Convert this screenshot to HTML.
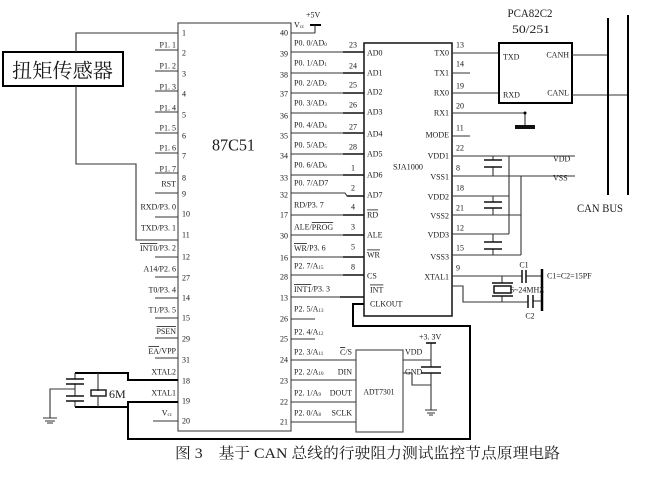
<!DOCTYPE html>
<html><head><meta charset="utf-8"><style>
html,body{margin:0;padding:0;background:#fff;width:650px;height:477px;overflow:hidden}
svg{display:block}
text{font-family:"Liberation Serif","Noto Serif CJK SC",serif;fill:#1a1a1a;font-size:8px;dominant-baseline:central}
.n{font-size:8px}
.e{text-anchor:end}
.m{text-anchor:middle}
.ov{text-decoration:overline}
.t{stroke:#333;stroke-width:1.1;fill:none}
.k{stroke:#000;stroke-width:2;fill:none}
.k15{stroke:#111;stroke-width:1.5;fill:none}
</style></head><body>
<svg width="650" height="477" viewBox="0 0 650 477" xmlns="http://www.w3.org/2000/svg">
<rect x="0" y="0" width="650" height="477" fill="#fff"/>

<!-- Sensor box -->
<rect x="3" y="52" width="120" height="34" fill="none" stroke="#000" stroke-width="2"/>
<text x="12" y="69" style="font-size:20px;font-family:'Noto Serif CJK SC','Noto Sans CJK SC',serif" textLength="101" lengthAdjust="spacingAndGlyphs">扭矩传感器</text>
<polyline class="t" points="76,52 76,33 178,33"/>
<polyline class="t" points="76,86 76,164 136,164 136,240 178,240"/>

<!-- 87C51 box -->
<rect x="178" y="23" width="113" height="408" fill="none" stroke="#444" stroke-width="1.1"/>
<text x="212" y="145" style="font-size:17px" textLength="43" lengthAdjust="spacingAndGlyphs">87C51</text>

<!-- left pin underlines -->
<g class="t">
<line x1="155" y1="50" x2="178" y2="50"/><line x1="155" y1="71" x2="178" y2="71"/>
<line x1="155" y1="91" x2="178" y2="91"/><line x1="155" y1="112" x2="178" y2="112"/>
<line x1="155" y1="133" x2="178" y2="133"/><line x1="155" y1="153" x2="178" y2="153"/>
<line x1="155" y1="173" x2="178" y2="173"/><line x1="155" y1="193" x2="178" y2="193"/>
<line x1="155" y1="217" x2="178" y2="217"/><line x1="155" y1="257" x2="178" y2="257"/>
<line x1="155" y1="277" x2="178" y2="277"/><line x1="155" y1="298" x2="178" y2="298"/>
<line x1="155" y1="318" x2="178" y2="318"/><line x1="155" y1="338" x2="178" y2="338"/>
<line x1="155" y1="358" x2="178" y2="358"/><line x1="153" y1="421" x2="178" y2="421"/>
</g>
<!-- left labels -->
<text class="e" x="176" y="45">P1. 1</text>
<text class="e" x="176" y="66">P1. 2</text>
<text class="e" x="176" y="87">P1. 3</text>
<text class="e" x="176" y="108">P1. 4</text>
<text class="e" x="176" y="128">P1. 5</text>
<text class="e" x="176" y="148">P1. 6</text>
<text class="e" x="176" y="169">P1. 7</text>
<text class="e" x="176" y="184">RST</text>
<text class="e" x="176" y="207">RXD/P3. 0</text>
<text class="e" x="176" y="228">TXD/P3. 1</text>
<text class="e" x="176" y="248"><tspan class="ov">INT0</tspan>/P3. 2</text>
<text class="e" x="176" y="269">A14/P2. 6</text>
<text class="e" x="176" y="290">T0/P3. 4</text>
<text class="e" x="176" y="310">T1/P3. 5</text>
<text class="e" x="176" y="331"><tspan class="ov">PSEN</tspan></text>
<text class="e" x="176" y="351"><tspan class="ov">EA</tspan>/VPP</text>
<text class="e" x="176" y="372">XTAL2</text>
<text class="e" x="176" y="393">XTAL1</text>
<text class="e" x="172" y="413">V<tspan style="font-size:5px" dy="2">cc</tspan></text>
<!-- left pin numbers -->
<g>
<text x="182" y="33">1</text><text x="182" y="53">2</text><text x="182" y="74">3</text>
<text x="182" y="94">4</text><text x="182" y="115">5</text><text x="182" y="136">6</text>
<text x="182" y="156">7</text><text x="182" y="178">8</text><text x="182" y="194">9</text>
<text x="182" y="214">10</text><text x="182" y="235">11</text><text x="182" y="257">12</text>
<text x="182" y="278">27</text><text x="182" y="298">14</text><text x="182" y="318">15</text>
<text x="182" y="339">29</text><text x="182" y="360">31</text><text x="182" y="381">18</text>
<text x="182" y="401">19</text><text x="182" y="421">20</text>
</g>
<!-- right pin numbers 87C51 -->
<g>
<text class="e" x="288" y="33">40</text><text class="e" x="288" y="54">39</text>
<text class="e" x="288" y="75">38</text><text class="e" x="288" y="94">37</text>
<text class="e" x="288" y="116">36</text><text class="e" x="288" y="136">35</text>
<text class="e" x="288" y="156">34</text><text class="e" x="288" y="178">33</text>
<text class="e" x="288" y="195">32</text><text class="e" x="288" y="215">17</text>
<text class="e" x="288" y="236">30</text><text class="e" x="288" y="258">16</text>
<text class="e" x="288" y="277">28</text><text class="e" x="288" y="298">13</text>
<text class="e" x="288" y="319">26</text><text class="e" x="288" y="339">25</text>
<text class="e" x="288" y="360">24</text><text class="e" x="288" y="381">23</text>
<text class="e" x="288" y="402">22</text><text class="e" x="288" y="422">21</text>
</g>
<!-- Vcc +5V -->
<text x="306" y="15">+5V</text>
<text x="294" y="25">V<tspan style="font-size:5px" dy="2">cc</tspan></text>
<line x1="310" y1="25" x2="321" y2="25" stroke="#000" stroke-width="2"/>
<line class="t" x1="315" y1="25" x2="315" y2="33"/>
<line class="t" x1="291" y1="33" x2="315" y2="33"/>

<!-- right labels 87C51 -->
<text x="294" y="43">P0. 0/AD<tspan style="font-size:5px" dy="2">0</tspan></text>
<text x="294" y="63">P0. 1/AD<tspan style="font-size:5px" dy="2">1</tspan></text>
<text x="294" y="83">P0. 2/AD<tspan style="font-size:5px" dy="2">2</tspan></text>
<text x="294" y="103">P0. 3/AD<tspan style="font-size:5px" dy="2">3</tspan></text>
<text x="294" y="125">P0. 4/AD<tspan style="font-size:5px" dy="2">4</tspan></text>
<text x="294" y="145">P0. 5/AD<tspan style="font-size:5px" dy="2">5</tspan></text>
<text x="294" y="165">P0. 6/AD<tspan style="font-size:5px" dy="2">6</tspan></text>
<text x="294" y="183">P0. 7/AD7</text>
<text x="294" y="205">RD/P3. 7</text>
<text x="294" y="227">ALE/<tspan class="ov">PROG</tspan></text>
<text x="294" y="248"><tspan class="ov">WR</tspan>/P3. 6</text>
<text x="294" y="266">P2. 7/A<tspan style="font-size:5px" dy="2">15</tspan></text>
<text x="294" y="289"><tspan class="ov">INT1</tspan>/P3. 3</text>
<text x="294" y="309">P2. 5/A<tspan style="font-size:5px" dy="2">13</tspan></text>
<text x="294" y="332">P2. 4/A<tspan style="font-size:5px" dy="2">12</tspan></text>
<text x="294" y="352">P2. 3/A<tspan style="font-size:5px" dy="2">11</tspan></text>
<text x="294" y="372">P2. 2/A<tspan style="font-size:5px" dy="2">10</tspan></text>
<text x="294" y="393">P2. 1/A<tspan style="font-size:5px" dy="2">9</tspan></text>
<text x="294" y="413">P2. 0/A<tspan style="font-size:5px" dy="2">8</tspan></text>

<!-- bus lines 87C51 -> SJA1000 -->
<g class="t">
<line x1="291" y1="52" x2="364" y2="52"/><line x1="291" y1="73" x2="364" y2="73"/>
<line x1="291" y1="93" x2="364" y2="93"/><line x1="291" y1="113" x2="364" y2="113"/>
<line x1="291" y1="133" x2="364" y2="133"/><line x1="291" y1="154" x2="364" y2="154"/>
<line x1="291" y1="175" x2="364" y2="175"/><polyline points="291,193 345,193 347,196 364,196"/>
<line x1="291" y1="215" x2="364" y2="215"/><line x1="291" y1="235" x2="364" y2="235"/>
<line x1="291" y1="257" x2="364" y2="257"/><line x1="291" y1="275" x2="364" y2="275"/>
<line x1="291" y1="297" x2="364" y2="297"/>
<line x1="291" y1="319" x2="315" y2="319"/><line x1="291" y1="339" x2="315" y2="339"/>
<line x1="291" y1="360" x2="356" y2="360"/><line x1="291" y1="380" x2="356" y2="380"/>
<line x1="291" y1="402" x2="356" y2="402"/><line x1="291" y1="422" x2="356" y2="422"/>
</g>
<g class="k15">
<line x1="343" y1="52" x2="364" y2="52"/><line x1="343" y1="73" x2="364" y2="73"/>
<line x1="343" y1="93" x2="364" y2="93"/><line x1="343" y1="113" x2="364" y2="113"/>
<line x1="343" y1="133" x2="364" y2="133"/><line x1="343" y1="154" x2="364" y2="154"/>
<line x1="343" y1="175" x2="364" y2="175"/><line x1="347" y1="196" x2="364" y2="196"/>
<line x1="343" y1="215" x2="364" y2="215"/><line x1="343" y1="235" x2="364" y2="235"/>
<line x1="343" y1="257" x2="364" y2="257"/><line x1="343" y1="275" x2="364" y2="275"/>
<line x1="340" y1="297" x2="364" y2="297"/>
</g>
<!-- SJA left pin numbers -->
<g>
<text class="m" x="353" y="45">23</text><text class="m" x="353" y="66">24</text>
<text class="m" x="353" y="85">25</text><text class="m" x="353" y="105">26</text>
<text class="m" x="353" y="127">27</text><text class="m" x="353" y="147">28</text>
<text class="m" x="353" y="168">1</text><text class="m" x="353" y="188">2</text>
<text class="m" x="353" y="207">4</text><text class="m" x="353" y="227">3</text>
<text class="m" x="353" y="247">5</text><text class="m" x="353" y="267">8</text>
</g>

<!-- SJA1000 box -->
<rect x="364" y="43" width="88" height="273" fill="none" stroke="#111" stroke-width="1.5"/>
<text x="393" y="167" textLength="30" lengthAdjust="spacingAndGlyphs">SJA1000</text>
<g>
<text x="367" y="53">AD0</text><text x="367" y="73">AD1</text><text x="367" y="92">AD2</text>
<text x="367" y="112">AD3</text><text x="367" y="134">AD4</text><text x="367" y="154">AD5</text>
<text x="367" y="175">AD6</text><text x="367" y="195">AD7</text>
<text x="367" y="215" class="ov">RD</text><text x="367" y="235">ALE</text>
<text x="367" y="255" class="ov">WR</text><text x="367" y="276">CS</text>
<text x="370" y="290" class="ov">INT</text><text x="370" y="304">CLKOUT</text>
</g>
<g>
<text class="e" x="449" y="53">TX0</text><text class="e" x="449" y="73">TX1</text>
<text class="e" x="449" y="93">RX0</text><text class="e" x="449" y="113">RX1</text>
<text class="e" x="449" y="135">MODE</text><text class="e" x="449" y="156">VDD1</text>
<text class="e" x="449" y="177">VSS1</text><text class="e" x="449" y="197">VDD2</text>
<text class="e" x="449" y="216">VSS2</text><text class="e" x="449" y="235">VDD3</text>
<text class="e" x="449" y="257">VSS3</text><text class="e" x="449" y="277">XTAL1</text>
</g>
<g>
<text x="456" y="45">13</text><text x="456" y="64">14</text><text x="456" y="86">19</text>
<text x="456" y="106">20</text><text x="456" y="128">11</text><text x="456" y="148">22</text>
<text x="456" y="168">8</text><text x="456" y="188">18</text><text x="456" y="208">21</text>
<text x="456" y="228">12</text><text x="456" y="248">15</text><text x="456" y="268">9</text>
</g>
<!-- SJA right wires -->
<g class="t">
<line x1="452" y1="53" x2="499" y2="53"/>
<line x1="452" y1="73" x2="470" y2="73"/>
<line x1="452" y1="93" x2="499" y2="93"/>
<line x1="452" y1="113" x2="525" y2="113"/>
<line x1="525" y1="113" x2="525" y2="126"/>
<line x1="452" y1="136" x2="470" y2="136"/>
<line x1="452" y1="156" x2="575" y2="156"/>
<line x1="452" y1="176" x2="575" y2="176"/>
<line x1="452" y1="196" x2="509" y2="196"/>
<line x1="452" y1="215" x2="521" y2="215"/>
<line x1="452" y1="234" x2="509" y2="234"/>
<line x1="452" y1="255" x2="521" y2="255"/>
<line x1="509" y1="156" x2="509" y2="234"/>
<line x1="521" y1="176" x2="521" y2="255"/>
<line x1="493" y1="156" x2="493" y2="160"/><line x1="493" y1="167" x2="493" y2="176"/>
<line x1="493" y1="196" x2="493" y2="202"/><line x1="493" y1="208" x2="493" y2="215"/>
<line x1="493" y1="234" x2="493" y2="242"/><line x1="493" y1="249" x2="493" y2="255"/>
</g>
<circle cx="525" cy="113" r="1.5" fill="#000"/>
<rect x="515" y="125" width="20" height="4" fill="#111"/>
<g stroke="#111" stroke-width="1.6">
<line x1="484" y1="160" x2="502" y2="160"/><line x1="484" y1="167" x2="502" y2="167"/>
<line x1="484" y1="202" x2="502" y2="202"/><line x1="484" y1="208" x2="502" y2="208"/>
<line x1="484" y1="242" x2="502" y2="242"/><line x1="484" y1="249" x2="502" y2="249"/>
</g>
<text x="553" y="159">VDD</text>
<text x="553" y="178">VSS</text>

<!-- PCA82C250 -->
<text class="m" x="530" y="13" style="font-size:12px" textLength="45" lengthAdjust="spacingAndGlyphs">PCA82C2</text>
<text class="m" x="531" y="29" style="font-size:12px" textLength="38" lengthAdjust="spacingAndGlyphs">50/251</text>
<rect x="499" y="43" width="73" height="60" fill="none" stroke="#000" stroke-width="2"/>
<text x="503" y="57">TXD</text><text x="503" y="95">RXD</text>
<text class="e" x="569" y="55">CANH</text><text class="e" x="569" y="93">CANL</text>
<line class="t" x1="572" y1="55" x2="608" y2="55"/>
<line class="t" x1="572" y1="95" x2="628" y2="95"/>
<line class="k" x1="608" y1="18" x2="608" y2="195"/>
<line class="k" x1="628" y1="15" x2="628" y2="195"/>
<text x="577" y="208" style="font-size:12px" textLength="46" lengthAdjust="spacingAndGlyphs">CAN BUS</text>

<!-- SJA crystal circuit -->
<g class="t">
<line x1="452" y1="276" x2="522" y2="276"/>
<line x1="526" y1="276" x2="542" y2="276"/>
<polyline points="452,286 463,286 463,302 528,302"/>
<line x1="533" y1="301" x2="542" y2="301"/>
<line x1="502" y1="276" x2="502" y2="283"/>
<line x1="502" y1="296" x2="502" y2="302"/>
</g>
<g stroke="#111" stroke-width="1.5">
<line x1="522" y1="270" x2="522" y2="283"/><line x1="526" y1="270" x2="526" y2="283"/>
<line x1="528" y1="295" x2="528" y2="308"/><line x1="533" y1="295" x2="533" y2="308"/>
<line x1="492" y1="283" x2="513" y2="283"/><line x1="492" y1="296" x2="513" y2="296"/>
</g>
<rect x="494" y="286" width="17" height="7" fill="none" stroke="#111" stroke-width="1.5"/>
<line x1="542" y1="269" x2="542" y2="311" stroke="#000" stroke-width="2.5"/>
<text class="m" x="524" y="265">C1</text>
<text x="547" y="276">C1=C2=15PF</text>
<text x="510" y="290">6~24MHZ</text>
<text class="m" x="530" y="316">C2</text>

<!-- CLKOUT -> XTAL1 loop -->
<polyline class="k" points="364,304 353,304 353,326 470,326 470,439 128,439 128,402 178,402"/>
<polyline class="k" points="128,402 128,407 75,407"/>
<polyline class="k" points="178,380 128,380 128,373 75,373"/>

<!-- left crystal + caps -->
<g class="t">
<line x1="75" y1="373" x2="75" y2="379"/><line x1="75" y1="384" x2="75" y2="396"/>
<line x1="75" y1="401" x2="75" y2="407"/>
<polyline points="75,389 50,389 50,418"/>
<line x1="98" y1="373" x2="98" y2="391"/><line x1="98" y1="397" x2="98" y2="407"/>
</g>
<g stroke="#111" stroke-width="1.6">
<line x1="66" y1="379" x2="84" y2="379"/><line x1="66" y1="384" x2="84" y2="384"/>
<line x1="66" y1="396" x2="84" y2="396"/><line x1="66" y1="401" x2="84" y2="401"/>
</g>
<rect x="91" y="390" width="15" height="6" fill="none" stroke="#111" stroke-width="1.4"/>
<text x="109" y="394" style="font-size:12px">6M</text>
<g stroke="#333" stroke-width="1">
<line x1="43" y1="418" x2="57" y2="418"/><line x1="45" y1="421" x2="55" y2="421"/><line x1="47" y1="423" x2="53" y2="423"/>
</g>

<!-- ADT7301 -->
<rect x="356" y="350" width="47" height="82" fill="none" stroke="#444" stroke-width="1.1"/>
<text class="m" x="379" y="392" textLength="31" lengthAdjust="spacingAndGlyphs">ADT7301</text>
<text class="e" x="352" y="352"><tspan class="ov">C</tspan>/S</text>
<text class="e" x="352" y="372">DIN</text>
<text class="e" x="352" y="393">DOUT</text>
<text class="e" x="352" y="413">SCLK</text>
<text x="405" y="352">VDD</text>
<text x="405" y="372">GND</text>
<text x="419" y="337">+3. 3V</text>
<g class="t">
<line x1="403" y1="360" x2="431" y2="360"/>
<line x1="431" y1="343" x2="431" y2="367"/>
<line x1="431" y1="373" x2="431" y2="410"/>
<polyline points="403,373 412,373 412,385 431,385"/>
</g>
<g stroke="#111" stroke-width="1.6">
<line x1="426" y1="343" x2="436" y2="343"/>
<line x1="421" y1="367" x2="441" y2="367"/><line x1="421" y1="373" x2="441" y2="373"/>
</g>
<g stroke="#333" stroke-width="1">
<line x1="425" y1="410" x2="437" y2="410"/><line x1="427" y1="413" x2="435" y2="413"/><line x1="429" y1="415" x2="433" y2="415"/>
</g>

<!-- caption -->
<text x="175" y="454" style="font-size:15px;font-family:'Liberation Serif','Noto Serif CJK SC',serif;fill:#222" textLength="385" lengthAdjust="spacingAndGlyphs">图 3　基于 CAN 总线的行驶阻力测试监控节点原理电路</text>
</svg>
</body></html>
